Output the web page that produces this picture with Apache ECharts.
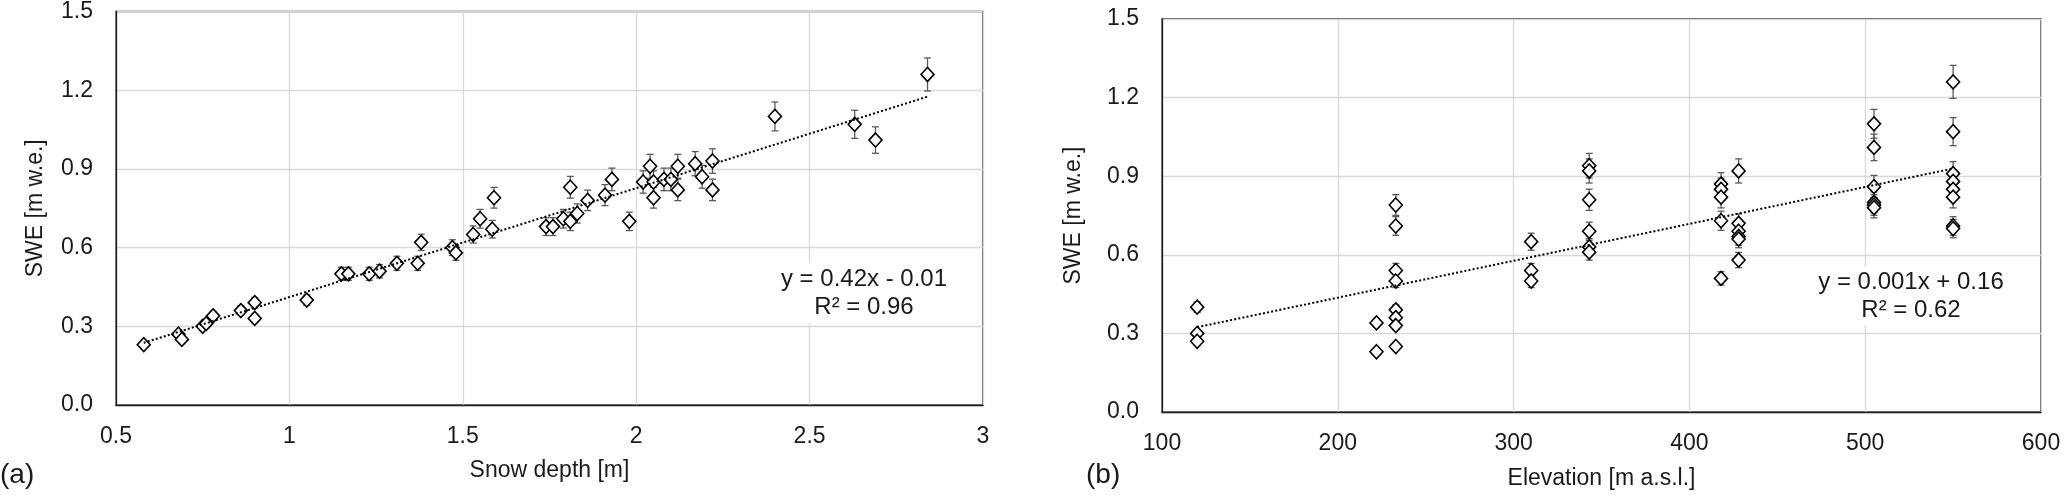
<!DOCTYPE html>
<html>
<head>
<meta charset="utf-8">
<script src="https://cdn.jsdelivr.net/npm/echarts@6/dist/echarts.min.js"></script>
<style>
    html, body { margin: 0; padding: 0; background: #fff; }
    .main { width: 2067px; height: 495px; }
</style>
</head>
<body>
<div class="main"></div>
<script>
// (a) snow depth [m] vs SWE [m w.e.]
const depthA = [0.58, 0.68, 0.69, 0.75, 0.76, 0.78, 0.86, 0.90, 0.90, 1.05,
    1.15, 1.17, 1.23, 1.26, 1.31, 1.37, 1.38, 1.47, 1.48, 1.53,
    1.55, 1.585, 1.59, 1.74, 1.76, 1.79, 1.81, 1.83, 1.81, 1.86,
    1.91, 1.93, 1.98, 2.02, 2.04, 2.05, 2.05, 2.08, 2.10, 2.12,
    2.12, 2.17, 2.19, 2.22, 2.22, 2.40, 2.63, 2.69, 2.84];
const sweA = [0.23, 0.27, 0.25, 0.30, 0.31, 0.34, 0.36, 0.33, 0.39, 0.40,
    0.50, 0.50, 0.50, 0.51, 0.54, 0.54, 0.62, 0.60, 0.58, 0.65,
    0.71, 0.67, 0.79, 0.68, 0.68, 0.71, 0.70, 0.73, 0.83, 0.78,
    0.80, 0.86, 0.70, 0.85, 0.91, 0.85, 0.79, 0.86, 0.86, 0.91,
    0.82, 0.92, 0.87, 0.93, 0.82, 1.10, 1.07, 1.01, 1.26];

// (b) elevation [m a.s.l.] vs SWE [m w.e.]
const elevB = [120, 120, 120, 222, 222,
    233, 233, 233, 233, 233, 233, 233, 233,
    310, 310, 310,
    343, 343, 343, 343, 343, 343,
    418, 418, 418, 418, 418,
    428, 428, 428, 428, 428, 428,
    505, 505, 505, 505, 505, 505,
    550, 550, 550, 550, 550, 550, 550, 550];
const sweB = [0.40, 0.30, 0.27, 0.34, 0.23,
    0.79, 0.71, 0.54, 0.50, 0.39, 0.36, 0.33, 0.25,
    0.65, 0.54, 0.50,
    0.94, 0.92, 0.81, 0.69, 0.63, 0.61,
    0.87, 0.85, 0.82, 0.73, 0.51,
    0.92, 0.72, 0.69, 0.67, 0.66, 0.58,
    1.10, 1.01, 0.86, 0.80, 0.79, 0.78,
    1.26, 1.07, 0.91, 0.88, 0.85, 0.82, 0.71, 0.70];

// percentage error bars (Excel style)
const errPercent = 5;

const eqA = ['y = 0.42x - 0.01', 'R² = 0.96'];
const eqB = ['y = 0.001x + 0.16', 'R² = 0.62'];

let font = 'Liberation Sans, Arial, sans-serif';
let textColor = '#1a1a1a';
let fontSize = 23;

let pairs = function(xs, ys) {
    return xs.map(function(x, i) { return [x, ys[i]]; });
};

let errors = function(xs, ys) {
    return xs.map(function(x, i) {
        let e = ys[i] * errPercent / 100;
        return [x, ys[i] - e, ys[i] + e];
    });
};

// least squares line, drawn between min and max x like an Excel trendline
let trend = function(xs, ys) {
    let n = xs.length, sx = 0, sy = 0, sxx = 0, sxy = 0;
    for (let i = 0; i < n; i++) {
        sx += xs[i]; sy += ys[i];
        sxx += xs[i] * xs[i]; sxy += xs[i] * ys[i];
    }
    let b = (n * sxy - sx * sy) / (n * sxx - sx * sx);
    let a = (sy - b * sx) / n;
    let x0 = Math.min.apply(null, xs), x1 = Math.max.apply(null, xs);
    return [[x0, a + b * x0], [x1, a + b * x1]];
};

let renderErrorBar = function(params, api) {
    let top = api.coord([api.value(0), api.value(2)]);
    let bot = api.coord([api.value(0), api.value(1)]);
    let cap = 3.5;
    let style = { stroke: '#5a5a5a', lineWidth: 1.3 };
    return {
        type: 'group',
        children: [
            { type: 'line', shape: { x1: top[0], y1: top[1], x2: bot[0], y2: bot[1] }, style: style },
            { type: 'line', shape: { x1: top[0] - cap, y1: top[1], x2: top[0] + cap, y2: top[1] }, style: style },
            { type: 'line', shape: { x1: bot[0] - cap, y1: bot[1], x2: bot[0] + cap, y2: bot[1] }, style: style }
        ]
    };
};

let xAxisBase = function(idx, name, min, max, interval, nameGap) {
    return {
        type: 'value', gridIndex: idx, min: min, max: max, interval: interval,
        name: name, nameLocation: 'middle', nameGap: nameGap,
        nameTextStyle: { fontFamily: font, fontSize: fontSize, color: textColor },
        axisLine: { lineStyle: { color: '#222', width: 1.3 } },
        axisTick: { show: false },
        axisLabel: { fontFamily: font, fontSize: fontSize, color: textColor, margin: 20 },
        splitLine: { show: true, lineStyle: { color: '#d9d9d9', width: 1.3 } }
    };
};

let yAxisBase = function(idx, nameGap) {
    return {
        type: 'value', gridIndex: idx, min: 0, max: 1.5, interval: 0.3,
        name: 'SWE [m w.e.]', nameLocation: 'middle', nameGap: nameGap,
        nameTextStyle: { fontFamily: font, fontSize: fontSize, color: textColor },
        axisLine: { show: true, lineStyle: { color: '#222', width: 1.3 } },
        axisTick: { show: false },
        axisLabel: {
            fontFamily: font, fontSize: fontSize, color: textColor, margin: 23,
            formatter: function(v) { return v.toFixed(1); }
        },
        splitLine: { show: true, lineStyle: { color: '#d9d9d9', width: 1.3 } }
    };
};

let scatter = function(idx, data) {
    return {
        type: 'scatter', xAxisIndex: idx, yAxisIndex: idx, data: data,
        symbol: 'diamond', symbolSize: [13, 14], z: 3,
        itemStyle: { color: '#fff', borderColor: '#000', borderWidth: 1.6, opacity: 1 },
        silent: true
    };
};

let errorSeries = function(idx, data) {
    return {
        type: 'custom', xAxisIndex: idx, yAxisIndex: idx, data: data,
        renderItem: renderErrorBar, z: 2, silent: true
    };
};

let trendSeries = function(idx, data) {
    return {
        type: 'line', xAxisIndex: idx, yAxisIndex: idx, data: data,
        symbol: 'none', z: 4, silent: true,
        lineStyle: { color: '#000', width: 2, type: [2, 2.2] }
    };
};

let eqText = function(lines, cx, cy) {
    return {
        type: 'text', x: cx, y: cy, z: 10,
        style: {
            text: lines.join('\n'), fontFamily: font, fontSize: 24, fill: textColor,
            align: 'center', verticalAlign: 'top', lineHeight: 28,
            backgroundColor: '#fff', padding: [2, 4]
        }
    };
};

let chart = echarts.init(document.querySelector('.main'), null, { renderer: 'canvas' });
let options = {
    animation: false,
    grid: [
        { left: 116, top: 10, width: 867, height: 395, show: true, borderColor: '#222', borderWidth: 1.3 },
        { left: 1162, top: 19, width: 879, height: 394, show: true, borderColor: '#222', borderWidth: 1.3 }
    ],
    xAxis: [
        xAxisBase(0, 'Snow depth [m]', 0.5, 3, 0.5, 54),
        xAxisBase(1, 'Elevation [m a.s.l.]', 100, 600, 100, 55)
    ],
    yAxis: [yAxisBase(0, 69), yAxisBase(1, 77)],
    graphic: [
        { type: 'text', x: 0, y: 461, style: { text: '(a)', fontFamily: font, fontSize: 28, fill: textColor } },
        { type: 'text', x: 1086, y: 461, style: { text: '(b)', fontFamily: font, fontSize: 28, fill: textColor } },
        eqText(eqA, 864, 263),
        eqText(eqB, 1911, 266)
    ],
    series: [
        errorSeries(0, errors(depthA, sweA)),
        scatter(0, pairs(depthA, sweA)),
        trendSeries(0, trend(depthA, sweA)),
        errorSeries(1, errors(elevB, sweB)),
        scatter(1, pairs(elevB, sweB)),
        trendSeries(1, trend(elevB, sweB))
    ]
};
chart.setOption(options);
</script>
</body>
</html>
